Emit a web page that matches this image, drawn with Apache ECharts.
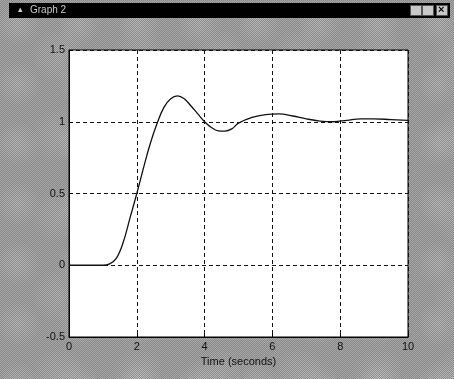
<!DOCTYPE html>
<html>
<head>
<meta charset="utf-8">
<script src="https://cdn.jsdelivr.net/npm/echarts@6/dist/echarts.min.js"></script>
<style>
  html, body { margin: 0; padding: 0; }
  body {
    width: 454px; height: 379px; overflow: hidden;
    background-color: #a6a6a6;
    background-image:
      linear-gradient(45deg, #8a8a8a 25%, transparent 25%, transparent 75%, #8a8a8a 75%),
      linear-gradient(45deg, #8a8a8a 25%, transparent 25%, transparent 75%, #8a8a8a 75%),
      radial-gradient(circle at 30% 40%, rgba(255,255,255,0.25), transparent 40%),
      radial-gradient(circle at 75% 70%, rgba(255,255,255,0.2), transparent 35%);
    background-size: 2px 2px, 2px 2px, 60px 60px, 80px 80px;
    background-position: 0 0, 1px 1px, 0 0, 0 0;
  }
  #chart { width: 454px; height: 379px; }
</style>
</head>
<body>
<div id="chart"></div>
<script>
// step response
const timeValues = [0, 0.5, 1.0, 1.2, 1.4, 1.6, 1.8, 2.0, 2.2, 2.4, 2.6, 2.8, 3.0, 3.2, 3.4, 3.6, 3.8, 4.0,
  4.2, 4.4, 4.6, 4.8, 5.0, 5.4, 5.8, 6.2, 6.6, 7.0, 7.4, 7.8, 8.2, 8.6, 9.0, 9.5, 10];
const responseValues = [0, 0, 0, 0.01, 0.05, 0.16, 0.33, 0.50, 0.68, 0.85, 0.99, 1.10, 1.16, 1.18, 1.16, 1.11, 1.055, 1.0,
  0.96, 0.937, 0.935, 0.95, 0.99, 1.03, 1.05, 1.055, 1.04, 1.02, 1.005, 1.0, 1.01, 1.02, 1.02, 1.015, 1.01];
const xTicks = [0, 2, 4, 6, 8, 10];
const yTicks = [-0.5, 0, 0.5, 1, 1.5];

const chart = echarts.init(document.getElementById("chart"));

const labelStyle = {
  color: "#111",
  fontFamily: "Liberation Sans",
  fontSize: 11,
};

const option = {
  backgroundColor: "transparent",
  animation: false,
  graphic: [
    // title bar
    { type: "rect", left: 9, top: 3, shape: { width: 441, height: 15 }, style: { fill: "#000" } },
    { type: "text", left: 18, top: 5, style: { text: "▴", fill: "#ccc", font: "9px Liberation Sans" } },
    { type: "text", left: 30, top: 5, style: { text: "Graph 2", fill: "#ccc", font: "10px Liberation Sans" } },
    { type: "rect", left: 410, top: 5, shape: { width: 11, height: 10 }, style: { fill: "#c8c8c8", stroke: "#555" } },
    { type: "rect", left: 422, top: 5, shape: { width: 11, height: 10 }, style: { fill: "#c8c8c8", stroke: "#555" } },
    { type: "rect", left: 436, top: 5, shape: { width: 11, height: 10 }, style: { fill: "#c8c8c8", stroke: "#555" } },
    { type: "text", left: 438, top: 4, style: { text: "×", fill: "#000", font: "bold 11px Liberation Sans" } },
  ],
  grid: {
    left: 69,
    right: 46,
    top: 50,
    bottom: 42,
    show: true,
    backgroundColor: "#fff",
    borderColor: "#000",
    borderWidth: 1,
  },
  xAxis: {
    type: "value",
    min: xTicks[0],
    max: xTicks[xTicks.length - 1],
    interval: 2,
    name: "Time (seconds)",
    nameLocation: "middle",
    nameGap: 18,
    nameTextStyle: labelStyle,
    axisLine: { show: true, onZero: false, lineStyle: { color: "#000" } },
    axisTick: { show: true, inside: true, length: 4, lineStyle: { color: "#000" } },
    axisLabel: { ...labelStyle, margin: 4 },
    splitLine: { show: true, lineStyle: { color: "#111", type: [4, 3], width: 1 } },
  },
  yAxis: {
    type: "value",
    min: yTicks[0],
    max: yTicks[yTicks.length - 1],
    interval: 0.5,
    axisLine: { show: true, onZero: false, lineStyle: { color: "#000" } },
    axisTick: { show: true, inside: true, length: 4, lineStyle: { color: "#000" } },
    axisLabel: { ...labelStyle, margin: 4 },
    splitLine: { show: true, lineStyle: { color: "#111", type: [4, 3], width: 1 } },
  },
  series: [
    {
      type: "line",
      data: timeValues.map((t, i) => [t, responseValues[i]]),
      smooth: 0.4,
      showSymbol: false,
      lineStyle: { color: "#111", width: 1.3 },
    },
  ],
};

chart.setOption(option);
</script>
</body>
</html>
